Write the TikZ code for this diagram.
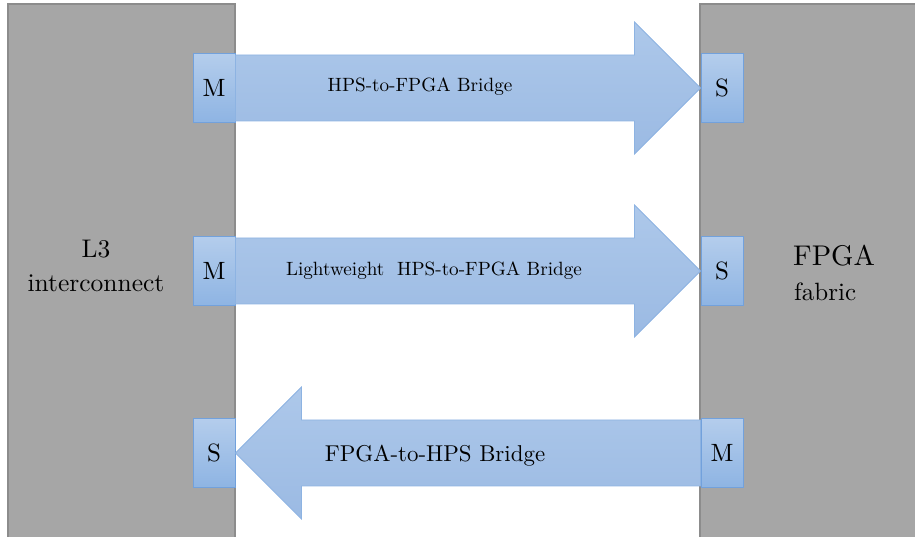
\documentclass[tikz,border=0pt]{standalone}
\usepackage{fontspec}
\setmainfont{lmroman10-regular}[Extension=.otf]
\usepackage{xcolor}
\definecolor{blkGray}{HTML}{A6A6A6}
\definecolor{blkGrayEdge}{HTML}{8C8C8C}
\definecolor{portTop}{HTML}{B4CDEC}
\definecolor{portBot}{HTML}{8EB4E3}
\definecolor{portEdge}{HTML}{72A1DC}
\definecolor{brTop}{HTML}{ADC8EA}
\definecolor{brBot}{HTML}{9BBAE3}
\definecolor{brEdge}{HTML}{8DB3E2}
\usepackage{tikz}
\usetikzlibrary{calc}

\begin{document}
\begin{tikzpicture}[x=1pt, y=1pt,
    blk/.style={fill=blkGray, draw=blkGrayEdge, line width=1.5pt},
    port/.style={draw=portEdge, line width=1pt, top color=portTop, bottom color=portBot, minimum width=42pt, minimum height=69pt, inner sep=0pt, font=\fontsize{25}{30}\selectfont},
    bridge/.style={draw=brEdge, line width=0.8pt, top color=brTop, bottom color=brBot},
    blbl/.style={anchor=base, inner sep=0pt}
  ]
    \clip (0,0) rectangle (915,537);
    % the two sides
    \draw[blk] (8,-10) rectangle (235,533);
    \draw[blk] (700,-10) rectangle (930,533);
    \node[align=center, font=\fontsize{25.5}{34}\selectfont] (l3) at (96,271) {L3\\interconnect};
    \node[anchor=base west, inner sep=0pt, font=\fontsize{28.5}{36}\selectfont] (fpga) at (793,271) {FPGA};
    \node[anchor=base west, inner sep=0pt, font=\fontsize{25}{30}\selectfont] (fabric) at (794,236) {fabric};
    % ports
    \node[port] (m1) at (214,449) {M};
    \node[port] (s1) at (722,449) {S};
    \node[port] (m2) at (214,266) {M};
    \node[port] (s2) at (722,266) {S};
    \node[port] (s3) at (214,84) {S};
    \node[port] (m3) at (722,84) {M};
    % bridges
    \draw[bridge] ($(m1.east)+(0,33)$) -- ($(s1.west)+(-66,33)$) -- ($(s1.west)+(-66,66)$) -- (s1.west)
      -- ($(s1.west)+(-66,-66)$) -- ($(s1.west)+(-66,-33)$) -- ($(m1.east)+(0,-33)$) -- cycle;
    \draw[bridge] ($(m2.east)+(0,33)$) -- ($(s2.west)+(-66,33)$) -- ($(s2.west)+(-66,66)$) -- (s2.west)
      -- ($(s2.west)+(-66,-66)$) -- ($(s2.west)+(-66,-33)$) -- ($(m2.east)+(0,-33)$) -- cycle;
    \draw[bridge] ($(m3.west)+(0,33)$) -- ($(s3.east)+(66,33)$) -- ($(s3.east)+(66,66)$) -- (s3.east)
      -- ($(s3.east)+(66,-66)$) -- ($(s3.east)+(66,-33)$) -- ($(m3.west)+(0,-33)$) -- cycle;
    \node[blbl, font=\fontsize{19.2}{24}\selectfont] (h2f) at (420,445) {HPS-to-FPGA Bridge};
    \node[blbl, font=\fontsize{19.2}{24}\selectfont] (lwh2f) at (434,261) {Lightweight\ \ HPS-to-FPGA Bridge};
    \node[blbl, font=\fontsize{22.9}{29}\selectfont] (f2h) at (435,75) {FPGA-to-HPS Bridge};
  \end{tikzpicture}
\end{document}
